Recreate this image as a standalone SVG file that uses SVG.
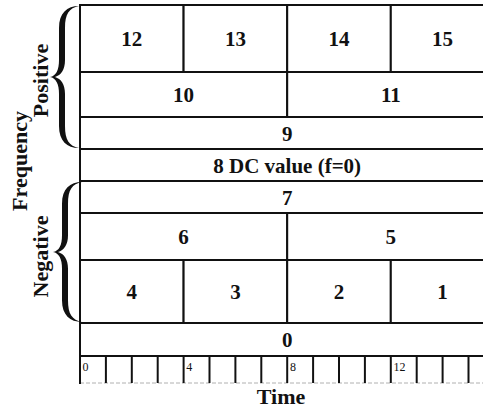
<svg xmlns="http://www.w3.org/2000/svg" width="483" height="417" viewBox="0 0 483 417">
  <style>
    .cell { fill: #ffffff; stroke: #111111; stroke-width: 2; }
    .lbl { font-family: "Liberation Serif", "Times New Roman", serif; font-weight: bold; font-size: 21px; fill: #111111; text-anchor: middle; }
    .axis { font-family: "Liberation Serif", "Times New Roman", serif; font-weight: bold; font-size: 22px; fill: #111111; text-anchor: middle; }
    .tick { stroke: #111111; stroke-width: 2; }
    .ticklbl { font-family: "Liberation Serif", "Times New Roman", serif; font-size: 12px; fill: #111111; }
    .brace { fill: #111111; }
  </style>
  <defs>
    <!-- curly brace spanning y 0..142, opening to the right, tip at x=51 -->
    <path id="brace" d="M 79,0 C 67,0 59,7 59,22 L 59,54 C 59,64 56,70 50,71 C 56,72 59,78 59,88 L 59,120 C 59,135 67,142 79,142 C 69,140 65,134 65,120 L 65,88 C 65,78 61,73 55,71 C 61,69 65,64 65,54 L 65,22 C 65,8 69,2 79,0 Z"/>
  </defs>

  <rect width="483" height="417" fill="#ffffff"/>

  <!-- positive frequency rows -->
  <g id="f12"><rect class="cell" x="80" y="5" width="103.6" height="67"/><text class="lbl" x="131.8" y="46">12</text></g>
  <g id="f13"><rect class="cell" x="183.6" y="5" width="103.6" height="67"/><text class="lbl" x="235.4" y="46">13</text></g>
  <g id="f14"><rect class="cell" x="287.2" y="5" width="103.6" height="67"/><text class="lbl" x="339" y="46">14</text></g>
  <g id="f15"><rect class="cell" x="390.8" y="5" width="103.6" height="67"/><text class="lbl" x="442.6" y="46">15</text></g>

  <g id="f10"><rect class="cell" x="80" y="72" width="207.2" height="45"/><text class="lbl" x="183.6" y="102">10</text></g>
  <g id="f11"><rect class="cell" x="287.2" y="72" width="207.2" height="45"/><text class="lbl" x="390.8" y="102">11</text></g>

  <g id="f9"><rect class="cell" x="80" y="117" width="414.4" height="32"/><text class="lbl" x="287.2" y="140.5">9</text></g>

  <!-- DC row -->
  <g id="f8"><rect class="cell" x="80" y="149" width="414.4" height="32"/><text class="lbl" x="287.2" y="172.5">8 DC value (f=0)</text></g>

  <!-- negative frequency rows -->
  <g id="f7"><rect class="cell" x="80" y="181" width="414.4" height="32"/><text class="lbl" x="287.2" y="204.5">7</text></g>

  <g id="f6"><rect class="cell" x="80" y="213" width="207.2" height="47"/><text class="lbl" x="183.6" y="244">6</text></g>
  <g id="f5"><rect class="cell" x="287.2" y="213" width="207.2" height="47"/><text class="lbl" x="390.8" y="244">5</text></g>

  <g id="f4"><rect class="cell" x="80" y="260" width="103.6" height="63"/><text class="lbl" x="131.8" y="299">4</text></g>
  <g id="f3"><rect class="cell" x="183.6" y="260" width="103.6" height="63"/><text class="lbl" x="235.4" y="299">3</text></g>
  <g id="f2"><rect class="cell" x="287.2" y="260" width="103.6" height="63"/><text class="lbl" x="339" y="299">2</text></g>
  <g id="f1"><rect class="cell" x="390.8" y="260" width="103.6" height="63"/><text class="lbl" x="442.6" y="299">1</text></g>

  <g id="f0"><rect class="cell" x="80" y="323" width="414.4" height="33"/><text class="lbl" x="287.2" y="347">0</text></g>

  <!-- time axis: 16 slots -->
  <g id="time-axis">
    <line class="tick" x1="80" y1="356" x2="496" y2="356"/>
    <line x1="80" y1="383" x2="496" y2="383" stroke="#b0b0b0" stroke-width="1" stroke-dasharray="4 2"/>
    <line class="tick" x1="80" y1="356" x2="80" y2="384"/>
    <line class="tick" x1="105.9" y1="356" x2="105.9" y2="383"/>
    <line class="tick" x1="131.8" y1="356" x2="131.8" y2="383"/>
    <line class="tick" x1="157.7" y1="356" x2="157.7" y2="383"/>
    <line class="tick" x1="183.6" y1="356" x2="183.6" y2="383"/>
    <line class="tick" x1="209.5" y1="356" x2="209.5" y2="383"/>
    <line class="tick" x1="235.4" y1="356" x2="235.4" y2="383"/>
    <line class="tick" x1="261.3" y1="356" x2="261.3" y2="383"/>
    <line class="tick" x1="287.2" y1="356" x2="287.2" y2="383"/>
    <line class="tick" x1="313.1" y1="356" x2="313.1" y2="383"/>
    <line class="tick" x1="339" y1="356" x2="339" y2="383"/>
    <line class="tick" x1="364.9" y1="356" x2="364.9" y2="383"/>
    <line class="tick" x1="390.8" y1="356" x2="390.8" y2="383"/>
    <line class="tick" x1="416.7" y1="356" x2="416.7" y2="383"/>
    <line class="tick" x1="442.6" y1="356" x2="442.6" y2="383"/>
    <line class="tick" x1="468.5" y1="356" x2="468.5" y2="383"/>
    <text class="ticklbl" x="82.5" y="371">0</text>
    <text class="ticklbl" x="186.3" y="371">4</text>
    <text class="ticklbl" x="290" y="371">8</text>
    <text class="ticklbl" x="393.6" y="371">12</text>
    <text class="axis" x="281" y="404">Time</text>
  </g>

  <!-- braces grouping the positive and negative halves -->
  <g id="braces">
    <use href="#brace" class="brace" transform="translate(0,6)"/>
    <use href="#brace" class="brace" transform="translate(3,182) scale(1,0.986)"/>
  </g>

  <g id="labels">
    <text class="axis" transform="translate(27,161) rotate(-90)">Frequency</text>
    <text class="axis" transform="translate(48,80.5) rotate(-90)">Positive</text>
    <text class="axis" transform="translate(48,256.5) rotate(-90)">Negative</text>
  </g>
</svg>
